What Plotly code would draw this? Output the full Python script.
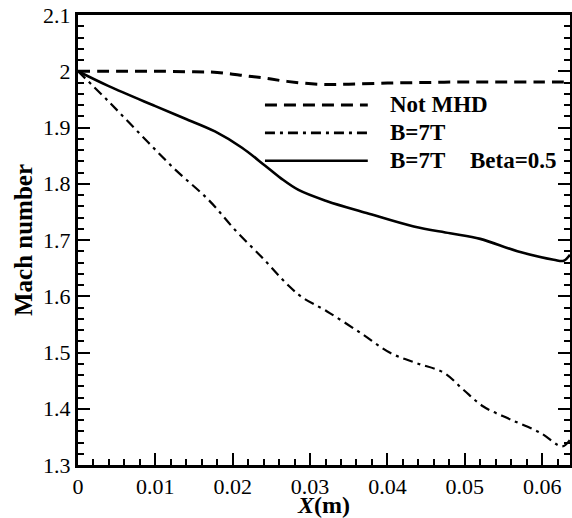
import plotly.graph_objects as go

x_not_mhd = [0, 0.005, 0.010, 0.015, 0.018, 0.021, 0.024, 0.027, 0.031, 0.035,
             0.040, 0.045, 0.050, 0.055, 0.060, 0.0636]
y_not_mhd = [2.0, 2.0, 2.0, 1.999, 1.998, 1.993, 1.988, 1.982, 1.977, 1.977,
             1.979, 1.980, 1.981, 1.981, 1.981, 1.981]

x_b7 = [0, 0.0039, 0.0082, 0.0125, 0.0169, 0.0203, 0.0240, 0.0272, 0.0290, 0.0322,
        0.0365, 0.0404, 0.0438, 0.0473, 0.0498, 0.0524, 0.0559, 0.0598, 0.0626, 0.0636]
y_b7 = [2.0, 1.947, 1.886, 1.826, 1.771, 1.718, 1.666, 1.619, 1.598, 1.573,
        1.535, 1.499, 1.481, 1.464, 1.434, 1.404, 1.381, 1.357, 1.333, 1.345]

x_beta = [0, 0.0039, 0.010, 0.0138, 0.0177, 0.0212, 0.0242, 0.0262, 0.0285, 0.0322,
          0.0373, 0.0434, 0.0481, 0.0520, 0.0568, 0.0615, 0.0628, 0.0636]
y_beta = [2.0, 1.974, 1.938, 1.916, 1.893, 1.864, 1.832, 1.810, 1.789, 1.769,
          1.748, 1.724, 1.712, 1.702, 1.680, 1.665, 1.663, 1.674]

x_ticks = [0, 0.01, 0.02, 0.03, 0.04, 0.05, 0.06]
x_ticklabels = ["0", "0.01", "0.02", "0.03", "0.04", "0.05", "0.06"]
y_ticks = [1.3, 1.4, 1.5, 1.6, 1.7, 1.8, 1.9, 2.0, 2.1]
y_ticklabels = ["1.3", "1.4", "1.5", "1.6", "1.7", "1.8", "1.9", "2", "2.1"]

names = ["Not MHD", "B=7T", "B=7T"]
DASH = "12px,7px"
DASHDOT = "10px,5px,3px,5px"
serif = "Liberation Serif"

fig = go.Figure()
fig.add_trace(go.Scatter(x=x_not_mhd, y=y_not_mhd, mode="lines", name=names[0],
                         line=dict(color="black", width=3, dash=DASH, shape="spline")))
fig.add_trace(go.Scatter(x=x_b7, y=y_b7, mode="lines", name=names[1],
                         line=dict(color="black", width=2.2, dash=DASHDOT, shape="spline")))
fig.add_trace(go.Scatter(x=x_beta, y=y_beta, mode="lines", name=names[2] + " Beta=0.5",
                         line=dict(color="black", width=2.6, shape="spline")))

# legend drawn by hand so the sample lines are long like the original
leg_y = [0.80, 0.738, 0.676]
leg_dash = [DASH, DASHDOT, "solid"]
leg_w = [3, 2.6, 2.6]
for yy, d, w, nm in zip(leg_y, leg_dash, leg_w, names):
    fig.add_shape(type="line", xref="paper", yref="paper", x0=0.380, x1=0.589, y0=yy, y1=yy,
                  line=dict(color="black", width=w, dash=d))
    fig.add_annotation(xref="paper", yref="paper", x=0.630, y=yy, text=nm,
                       showarrow=False, xanchor="left", yanchor="middle",
                       font=dict(family=serif, size=23, color="black", weight="bold"))
fig.add_annotation(xref="paper", yref="paper", x=0.793, y=leg_y[2], text="Beta=0.5",
                   showarrow=False, xanchor="left", yanchor="middle",
                   font=dict(family=serif, size=23, color="black", weight="bold"))

fig.update_layout(
    width=572, height=518,
    margin=dict(l=78, r=2, t=15, b=53),
    paper_bgcolor="white", plot_bgcolor="white",
    showlegend=False,
    font=dict(family=serif, size=22, color="black"),
)
fig.update_xaxes(range=[0, 0.0636], tickvals=x_ticks, ticktext=x_ticklabels,
                 showgrid=False, zeroline=False, showline=True, linecolor="black", linewidth=3,
                 mirror=True, ticks="inside", ticklen=12, tickwidth=2, tickcolor="black",
                 minor=dict(ticks="inside", ticklen=6, tickwidth=1.5, dtick=0.002, tickcolor="black"),
                 ticklabeloverflow="allow",
                 title=dict(text="<i>X</i>(m)", standoff=6,
                            font=dict(family=serif, size=24, weight="bold")),
                 automargin=False)
fig.update_yaxes(range=[1.3, 2.1], tickvals=y_ticks, ticktext=y_ticklabels,
                 showgrid=False, zeroline=False, showline=True, linecolor="black", linewidth=3,
                 mirror="ticks", ticks="inside", ticklen=12, tickwidth=2, tickcolor="black",
                 minor=dict(ticks="inside", ticklen=6, tickwidth=1.5, dtick=0.02, tickcolor="black"),
                 ticklabeloverflow="allow",
                 title=dict(text="Mach number", standoff=4,
                            font=dict(family=serif, size=25, weight="bold")),
                 automargin=False)

# drop the default 8px page margin so the figure sits exactly in the window
fig.write_html("out.html", config={"displayModeBar": False},
               post_script="document.body.style.margin='0';document.body.style.overflow='hidden';")
